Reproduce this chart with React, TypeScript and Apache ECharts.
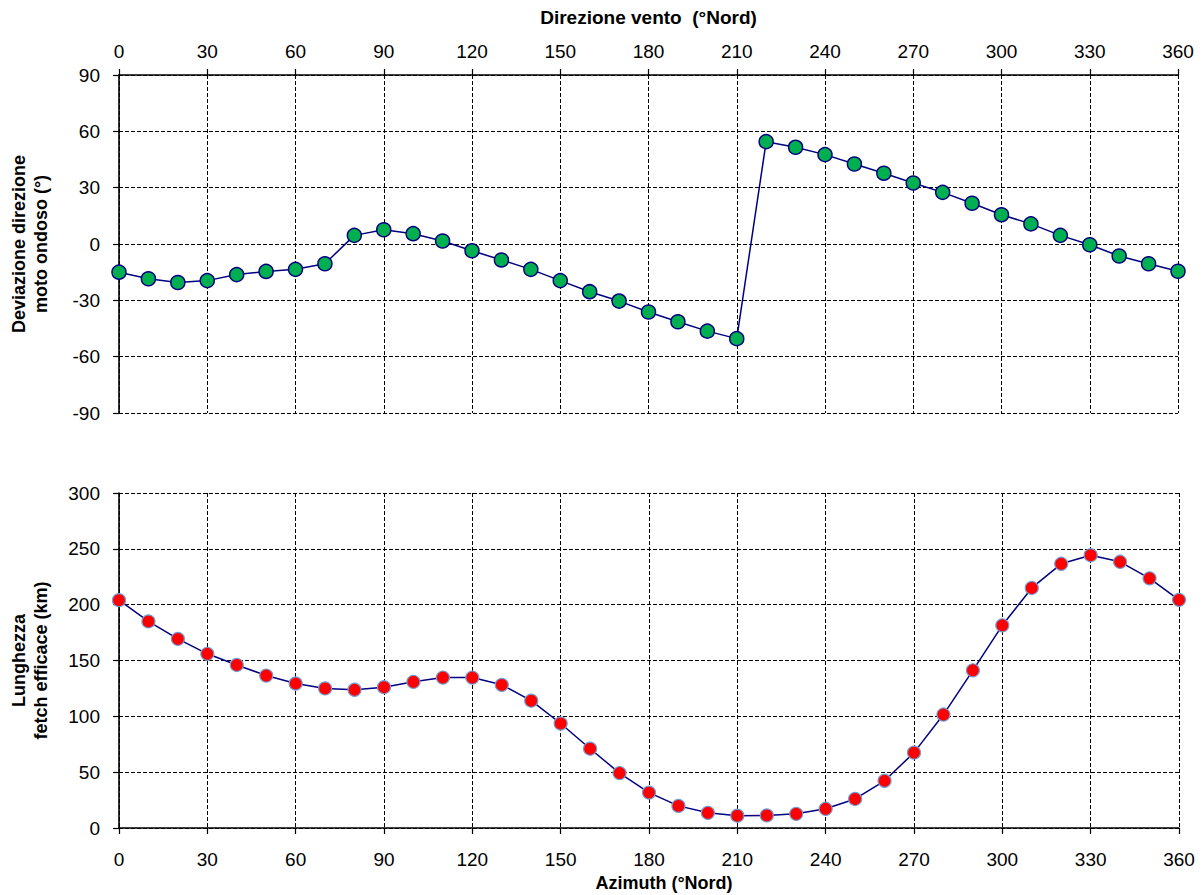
import React, { useEffect, useRef } from "react";
import * as echarts from "echarts";

const angles = [0, 10, 20, 30, 40, 50, 60, 70, 80, 90, 100, 110, 120, 130, 140, 150, 160, 170, 180, 190, 200, 210, 220, 230, 240, 250, 260, 270, 280, 290, 300, 310, 320, 330, 340, 350, 360];

const deviation = [-15, -18.5, -20.5, -19.5, -16.3, -14.6, -13.5, -10.5, 4.6, 7.6, 5.5, 1.6, -3.6, -8.5, -13.5, -19.5, -25.4, -30.4, -36.2, -41.4, -46.4, -50.4, 54.5, 51.5, 47.6, 42.6, 37.7, 32.5, 27.5, 21.7, 15.6, 10.7, 4.6, -0.4, -6.4, -10.5, -14.5];

const fetchLength = [204, 185, 169.4, 156, 146, 136.5, 129.4, 125, 123.8, 126.1, 130.9, 134.7, 134.7, 128.2, 114, 93.6, 71, 49.2, 31.7, 19.8, 13.6, 11, 11.3, 12.7, 17.2, 26, 42.3, 67.5, 101.6, 141.2, 181.5, 215, 236.6, 244.3, 238.4, 223.6, 204.3];

const FONT = "'Liberation Sans', Arial, sans-serif";

const axisLine = { show: true, onZero: false, lineStyle: { color: "#000", width: 1.6 } };
const axisTick = { show: true, inside: false, length: 6, lineStyle: { color: "#000", width: 1.2 } };
const splitLine = { show: true, lineStyle: { color: "#000", width: 1, type: [4, 2] as any } };
const labelStyle = { color: "#000", fontSize: 19, fontFamily: FONT };
const nameStyle = { color: "#000", fontSize: 18, fontWeight: "bold" as const, fontFamily: FONT, lineHeight: 22 };

export default function App() {
  const ref = useRef<HTMLDivElement>(null);
  useEffect(() => {
    if (!ref.current) return;
    const chart = echarts.init(ref.current, undefined, { renderer: "svg" });
    chart.setOption({
      animation: false,
      backgroundColor: "#fff",
      grid: [
        { left: 119, top: 75, width: 1059, height: 338 },
        { left: 119, top: 493, width: 1060, height: 339 },
      ],
      xAxis: [
        {
          gridIndex: 0,
          type: "value",
          position: "top",
          min: 0,
          max: 360,
          interval: 30,
          name: "Direzione vento  (°Nord)",
          nameLocation: "middle",
          nameGap: 47,
          nameTextStyle: { ...nameStyle, fontSize: 19 },
          axisLine,
          axisTick,
          splitLine,
          axisLabel: { ...labelStyle, margin: 14 },
        },
        {
          gridIndex: 1,
          type: "value",
          position: "bottom",
          min: 0,
          max: 360,
          interval: 30,
          name: "Azimuth (°Nord)",
          nameLocation: "middle",
          nameGap: 44,
          nameTextStyle: { ...nameStyle, padding: [0, 0, 0, 30] },
          axisLine,
          axisTick,
          splitLine,
          axisLabel: { ...labelStyle, margin: 22 },
        },
      ],
      yAxis: [
        {
          gridIndex: 0,
          type: "value",
          min: -90,
          max: 90,
          interval: 30,
          name: "Deviazione direzione\nmoto ondoso (°)",
          nameLocation: "middle",
          nameGap: 67,
          nameTextStyle: nameStyle,
          axisLine,
          axisTick,
          splitLine,
          axisLabel: { ...labelStyle, margin: 19 },
        },
        {
          gridIndex: 1,
          type: "value",
          min: 0,
          max: 300,
          interval: 50,
          name: "Lunghezza\nfetch efficace (km)",
          nameLocation: "middle",
          nameGap: 67,
          nameTextStyle: nameStyle,
          axisLine,
          axisTick,
          splitLine,
          axisLabel: { ...labelStyle, margin: 19 },
        },
      ],
      series: [
        {
          type: "line",
          xAxisIndex: 0,
          yAxisIndex: 0,
          data: angles.map((a, i) => [a, deviation[i]]),
          symbol: "circle",
          symbolSize: 14,
          lineStyle: { color: "#000080", width: 1.5 },
          itemStyle: { color: "#00B050", borderColor: "#000080", borderWidth: 1.5 },
        },
        {
          type: "line",
          xAxisIndex: 1,
          yAxisIndex: 1,
          data: angles.map((a, i) => [a, fetchLength[i]]),
          symbol: "circle",
          symbolSize: 13,
          lineStyle: { color: "#000080", width: 1.5 },
          itemStyle: { color: "#FF0000", borderColor: "#6F9FD8", borderWidth: 1.2 },
        },
      ],
    });
    return () => chart.dispose();
  }, []);
  return (
    <div
      ref={ref}
      style={{ position: "fixed", left: 0, top: 0, width: 1204, height: 895, background: "#fff" }}
    />
  );
}
